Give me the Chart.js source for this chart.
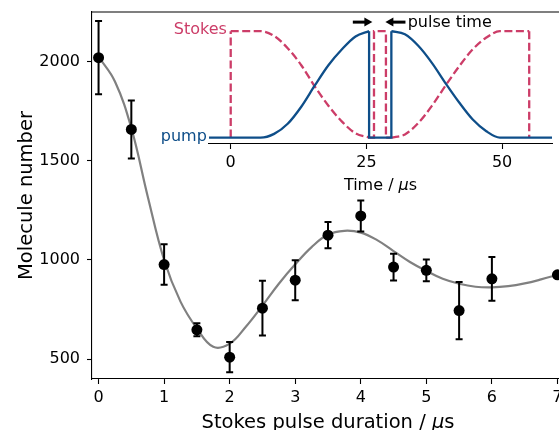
<!DOCTYPE html>
<html>
<head>
<meta charset="utf-8">
<script src="https://cdn.jsdelivr.net/npm/chart.js@4.4.1/dist/chart.umd.min.js"></script>
<style>
  html, body { margin: 0; padding: 0; background: #fff; }
  #wrap { position: relative; width: 559px; height: 430px; overflow: hidden; }
  #main { position: absolute; left: 0; top: 0; }
  #inset { position: absolute; left: 150px; top: 0; }
</style>
</head>
<body>
<div id="wrap">
  <canvas id="main" width="570" height="430"></canvas>
  <canvas id="inset" width="409" height="200"></canvas>
</div>
<script>
// -----------------------------
// Data
// -----------------------------
const durations = [0, 0.5, 1, 1.5, 2, 2.5, 3, 3.5, 4, 4.5, 5, 5.5, 6, 7];
const molecules = [2020, 1658, 977, 648, 510, 757, 898, 1125, 1222, 964, 948, 745, 905, 925];
const moleculeErr = [185, 146, 102, 33, 76, 138, 101, 66, 78, 67, 55, 144, 110, 15];

// fitted curve
const fitT = [0, 0.25, 0.5, 0.75, 1, 1.25, 1.5, 1.75, 2, 2.25, 2.5, 2.75, 3, 3.25, 3.5,
              3.75, 4, 4.25, 4.5, 4.75, 5, 5.25, 5.5, 5.75, 6, 6.25, 6.5, 6.75, 7];
const fitN = [2025, 1900, 1665, 1320, 1000, 790, 655, 562, 578, 665, 770, 880, 978, 1065, 1128,
              1147, 1138, 1100, 1045, 990, 945, 905, 880, 865, 862, 868, 882, 902, 925];

const durationTicks = [0, 1, 2, 3, 4, 5, 6, 7];
const moleculeTicks = [500, 1000, 1500, 2000];

// inset: pulse sequence (time in us, amplitude 0..1)
const pumpRiseT = [-4, 5.5, 8, 10.5, 13, 15.5, 18, 20.5, 23, 25.5];
const pumpRiseA = [0, 0, 0.035, 0.13, 0.29, 0.49, 0.68, 0.83, 0.95, 1];
const pumpGapT = [25.5, 25.5, 29.6, 29.6];
const pumpGapA = [1, 0, 0, 1];
const pumpFallT = [29.6, 32.1, 34.6, 37.1, 39.6, 42.1, 44.6, 47.1, 49.6, 59.2];
const pumpFallA = [1, 0.97, 0.86, 0.7, 0.51, 0.33, 0.17, 0.06, 0, 0];

const stokesOnT = [0, 0];
const stokesOnA = [0, 1];
const stokesFallT = [0, 5.5, 8, 10.5, 13, 15.5, 18, 20.5, 23, 25.5];
const stokesFallA = [1, 1, 0.955, 0.84, 0.68, 0.48, 0.3, 0.15, 0.04, 0];
const stokesPulseT = [25.5, 26.4, 26.4, 28.6, 28.6, 29.6];
const stokesPulseA = [0, 0, 1, 1, 0, 0];
const stokesRiseT = [29.6, 32.1, 34.6, 37.1, 39.6, 42.1, 44.6, 47.1, 49.6, 55];
const stokesRiseA = [0, 0.03, 0.14, 0.3, 0.49, 0.67, 0.83, 0.94, 1, 1];
const stokesOffT = [55, 55];
const stokesOffA = [1, 0];

const timeTicks = [0, 25, 50];

const pumpColor = '#0e4e89';
const stokesColor = '#cc3d68';

Chart.defaults.font.family = "'DejaVu Sans'";
Chart.defaults.font.size = 16;
Chart.defaults.color = '#000';

const pts = (xs, ys) => xs.map((x, i) => ({ x: x, y: ys[i] }));

function noPad(s) {
  s.paddingTop = 0; s.paddingBottom = 0; s.paddingLeft = 0; s.paddingRight = 0;
}

function drawMixed(ctx, parts, cx, y, size) {
  let total = 0;
  parts.forEach(p => {
    ctx.font = (p[1] ? 'italic ' : '') + size + "px 'DejaVu Sans'";
    total += ctx.measureText(p[0]).width;
  });
  let x = cx - total / 2;
  ctx.textAlign = 'left';
  ctx.textBaseline = 'alphabetic';
  parts.forEach(p => {
    ctx.font = (p[1] ? 'italic ' : '') + size + "px 'DejaVu Sans'";
    ctx.fillText(p[0], x, y);
    x += ctx.measureText(p[0]).width;
  });
}

function xAxis(min, max, ticks, height) {
  return {
    type: 'linear', min: min, max: max,
    afterBuildTicks: s => { s.ticks = ticks.map(v => ({ value: v })); },
    afterFit: s => { s.height = height; noPad(s); },
    grid: { drawOnChartArea: false, drawTicks: true, tickLength: 5, tickWidth: 1.1, tickColor: '#000' },
    border: { display: true, color: '#000', width: 1.1 },
    ticks: { padding: 4, color: '#000', maxRotation: 0, autoSkip: false, callback: v => String(v) }
  };
}

// -----------------------------
// Main chart
// -----------------------------
const errorBars = {
  id: 'errorBars',
  afterDatasetDraw(chart, args) {
    if (args.index !== 0) return;
    const { ctx, scales: { x, y } } = chart;
    ctx.save();
    ctx.strokeStyle = '#000';
    ctx.lineWidth = 2;
    durations.forEach((t, i) => {
      const px = x.getPixelForValue(t);
      const top = y.getPixelForValue(molecules[i] + moleculeErr[i]);
      const bot = y.getPixelForValue(molecules[i] - moleculeErr[i]);
      ctx.beginPath();
      ctx.moveTo(px, top); ctx.lineTo(px, bot);
      ctx.moveTo(px - 3.5, top); ctx.lineTo(px + 3.5, top);
      ctx.moveTo(px - 3.5, bot); ctx.lineTo(px + 3.5, bot);
      ctx.stroke();
    });
    ctx.restore();
  },
  afterDraw(chart) {
    const { ctx, chartArea: a } = chart;
    ctx.save();
    ctx.strokeStyle = '#000';
    ctx.lineWidth = 1.1;
    ctx.beginPath();
    ctx.moveTo(a.left, a.top); ctx.lineTo(a.right, a.top); ctx.lineTo(a.right, a.bottom);
    ctx.stroke();
    ctx.fillStyle = '#000';
    drawMixed(ctx, [['Stokes pulse duration / ', false], ['μ', true], ['s', false]],
      (a.left + a.right) / 2, 428, 19.5);
    ctx.translate(31.5, (a.top + a.bottom) / 2);
    ctx.rotate(-Math.PI / 2);
    drawMixed(ctx, [['Molecule number', false]], 0, 0, 19.5);
    ctx.restore();
  }
};

new Chart(document.getElementById('main'), {
  type: 'scatter',
  data: {
    datasets: [
      {
        data: pts(fitT, fitN), showLine: true, borderColor: '#808080', borderWidth: 2.2,
        pointRadius: 0, tension: 0.4, order: 2
      },
      {
        data: pts(durations, molecules), showLine: false, backgroundColor: '#000',
        borderWidth: 0, pointRadius: 5.5, order: 1
      }
    ]
  },
  options: {
    responsive: false, animation: false, devicePixelRatio: 1,
    layout: { padding: { left: 0, top: 12, right: 6, bottom: 0 } },
    plugins: { legend: { display: false }, tooltip: { enabled: false } },
    scales: {
      x: xAxis(-0.1, 7.1, durationTicks, 51),
      y: {
        type: 'linear', min: 400, max: 2250,
        afterBuildTicks: s => { s.ticks = moleculeTicks.map(v => ({ value: v })); },
        afterFit: s => { s.width = 92; noPad(s); },
        grid: { drawOnChartArea: false, drawTicks: true, tickLength: 5, tickWidth: 1.1, tickColor: '#000' },
        border: { display: true, color: '#000', width: 1.1 },
        ticks: { padding: 7, color: '#000', callback: v => String(v) }
      }
    }
  },
  plugins: [errorBars]
});

// -----------------------------
// Inset: pulse sequence
// -----------------------------
function line(xs, ys, color, dashed, curved) {
  return {
    data: pts(xs, ys), showLine: true, borderColor: color, borderWidth: 2.3,
    borderDash: dashed ? [8, 3.5] : [], pointRadius: 0,
    tension: curved ? 0.4 : 0, cubicInterpolationMode: curved ? 'monotone' : 'default',
    order: dashed ? 2 : 1
  };
}

const insetDeco = {
  id: 'insetDeco',
  afterDraw(chart) {
    const { ctx, chartArea: a, scales: { x, y } } = chart;
    ctx.save();
    ctx.textBaseline = 'alphabetic';
    ctx.font = "16px 'DejaVu Sans'";
    ctx.textAlign = 'right';
    ctx.fillStyle = stokesColor;
    ctx.fillText('Stokes', x.getPixelForValue(-0.7), y.getPixelForValue(1) + 2.5);
    ctx.fillStyle = pumpColor;
    ctx.fillText('pump', x.getPixelForValue(-4.4), y.getPixelForValue(0) + 3.2);

    // arrows marking the pulse time
    const ay = y.getPixelForValue(1.085);
    ctx.fillStyle = '#000';
    ctx.strokeStyle = '#000';
    ctx.lineWidth = 3;
    [[22.5, 26.1], [32.2, 28.5]].forEach(([from, to]) => {
      const x0 = x.getPixelForValue(from), x1 = x.getPixelForValue(to);
      const dir = Math.sign(x1 - x0);
      ctx.beginPath();
      ctx.moveTo(x0, ay); ctx.lineTo(x1 - dir * 7, ay);
      ctx.stroke();
      ctx.beginPath();
      ctx.moveTo(x1, ay); ctx.lineTo(x1 - dir * 8, ay - 4.5); ctx.lineTo(x1 - dir * 8, ay + 4.5);
      ctx.closePath();
      ctx.fill();
    });
    ctx.textAlign = 'left';
    ctx.fillText('pulse time', x.getPixelForValue(32.6), 26.7);

    drawMixed(ctx, [['Time / ', false], ['μ', true], ['s', false]], (a.left + a.right) / 2, 190, 16);
    ctx.restore();
  }
};

new Chart(document.getElementById('inset'), {
  type: 'scatter',
  data: {
    datasets: [
      line(pumpRiseT, pumpRiseA, pumpColor, false, true),
      line(pumpGapT, pumpGapA, pumpColor, false, false),
      line(pumpFallT, pumpFallA, pumpColor, false, true),
      line(stokesOnT, stokesOnA, stokesColor, true, false),
      line(stokesFallT, stokesFallA, stokesColor, true, true),
      line(stokesPulseT, stokesPulseA, stokesColor, true, false),
      line(stokesRiseT, stokesRiseA, stokesColor, true, true),
      line(stokesOffT, stokesOffA, stokesColor, true, false)
    ]
  },
  options: {
    responsive: false, animation: false, devicePixelRatio: 1,
    layout: { padding: { left: 59, top: 12, right: 7, bottom: 0 } },
    plugins: { legend: { display: false }, tooltip: { enabled: false } },
    scales: {
      x: xAxis(-4, 59.2, timeTicks, 56),
      y: { type: 'linear', min: -0.06, max: 1.18, display: false }
    }
  },
  plugins: [insetDeco]
});
</script>
</body>
</html>
